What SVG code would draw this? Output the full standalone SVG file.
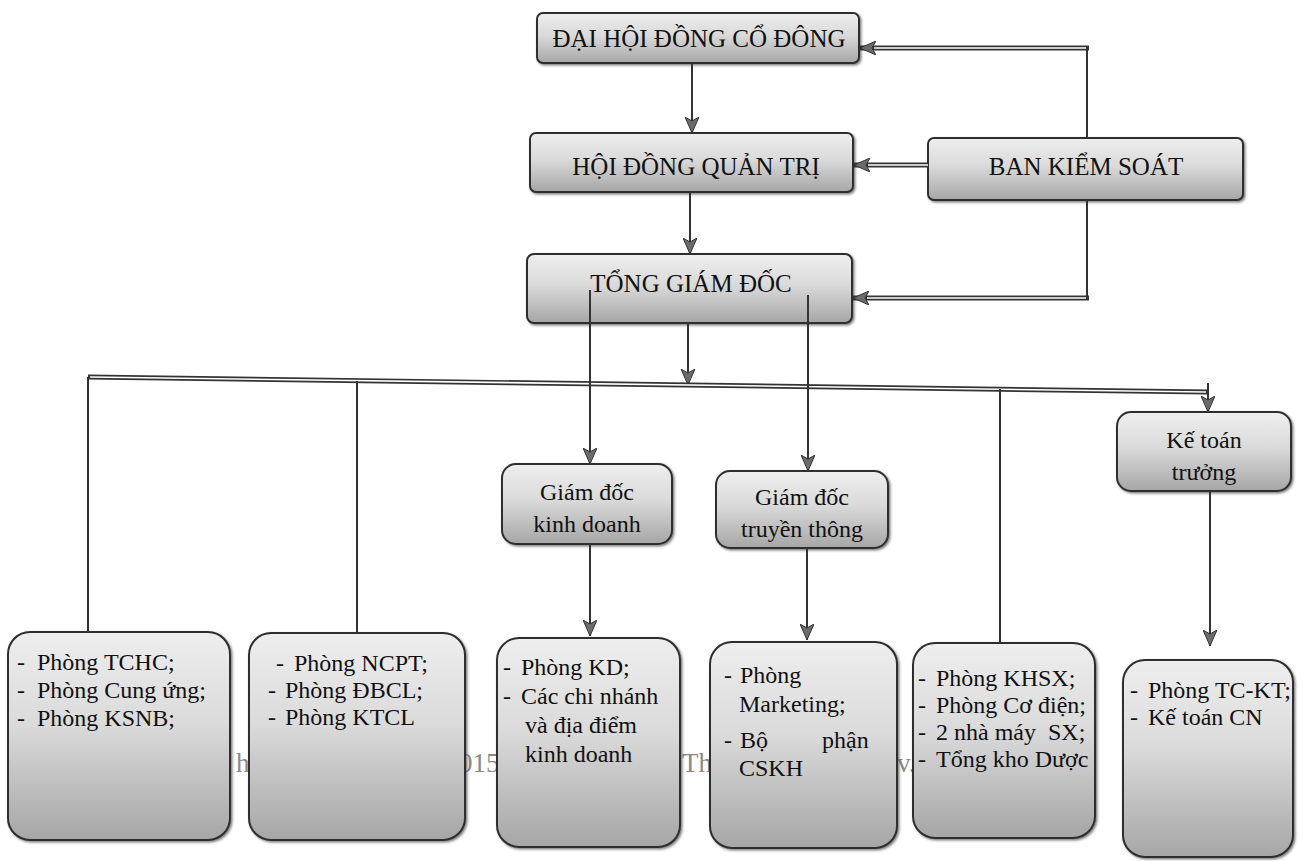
<svg xmlns="http://www.w3.org/2000/svg" width="1303" height="861" viewBox="0 0 1303 861" font-family="Liberation Serif, Times New Roman, serif">
<style>
text{font-family:'Liberation Serif','Times New Roman',serif}
.t{font-size:24px;fill:#111}
.h{font-size:25px}
.c{text-anchor:middle}
.wm{font-size:27px;fill:#8a8a8a}
.box{fill:url(#g);stroke:#2e2e2e;stroke-width:2;filter:url(#sh)}
.ln{fill:none;stroke:#333;stroke-width:2}
.dl{fill:none;stroke:#333;stroke-width:5}
.dw{fill:none;stroke:#fff;stroke-width:1.6}
</style>
<defs>
<linearGradient id="g" x1="0" y1="0" x2="0" y2="1">
<stop offset="0" stop-color="#eeeeee"/>
<stop offset="0.45" stop-color="#dadada"/>
<stop offset="1" stop-color="#a6a6a6"/>
</linearGradient>
<filter id="sh" x="-5%" y="-5%" width="115%" height="120%">
<feDropShadow dx="1.5" dy="1.5" stdDeviation="1" flood-color="#444" flood-opacity="0.7"/>
</filter>
<marker id="ar" viewBox="0 0 16 14" refX="16" refY="7" markerWidth="16" markerHeight="14" markerUnits="userSpaceOnUse" orient="auto">
<path d="M0,0 L16,7 L0,14 L4,7 z" fill="#6b6b6b" stroke="#333" stroke-width="1"/>
</marker>
</defs>
<rect width="1303" height="861" fill="#fff"/>
<g id="watermark">
<text class="wm" x="236" y="772">h</text>
<text class="wm" x="459" y="772">015</text>
<text class="wm" x="682" y="772">Th</text>
<text class="wm" x="897" y="772">v.</text>
</g>
<g id="n-dhdcd"><rect class="box" x="537" y="13" width="322" height="50" rx="6"/><text class="t h c" x="699" y="47">ĐẠI HỘI ĐỒNG CỔ ĐÔNG</text></g>
<g id="n-hdqt"><rect class="box" x="530" y="133" width="323" height="59" rx="6"/><text class="t h c" x="696" y="175">HỘI ĐỒNG QUẢN TRỊ</text></g>
<g id="n-bks"><rect class="box" x="928" y="138" width="315" height="62" rx="6"/><text class="t h c" x="1086" y="175">BAN KIỂM SOÁT</text></g>
<g id="n-tgd"><rect class="box" x="527" y="254" width="325" height="69" rx="7"/><text class="t h c" x="691" y="292">TỔNG GIÁM ĐỐC</text></g>
<g id="n-gdkd"><rect class="box" x="502" y="464" width="170" height="80" rx="14"/><text class="t c" x="587" y="500">Giám đốc</text><text class="t c" x="587" y="532">kinh doanh</text></g>
<g id="n-gdtt"><rect class="box" x="716" y="471" width="172" height="77" rx="14"/><text class="t c" x="802" y="505">Giám đốc</text><text class="t c" x="802" y="537">truyền thông</text></g>
<g id="n-ktt"><rect class="box" x="1117" y="412" width="174" height="79" rx="14"/><text class="t c" x="1204" y="448">Kế toán</text><text class="t c" x="1204" y="480">trưởng</text></g>
<g id="n-b1"><rect class="box" x="8" y="632" width="222" height="208" rx="22"/>
<text class="t" x="17" y="670">-</text><text class="t" x="37" y="670">Phòng TCHC;</text>
<text class="t" x="17" y="698">-</text><text class="t" x="37" y="698">Phòng Cung ứng;</text>
<text class="t" x="17" y="726">-</text><text class="t" x="37" y="726">Phòng KSNB;</text></g>
<g id="n-b2"><rect class="box" x="249" y="633" width="216" height="207" rx="22"/>
<text class="t" x="276" y="671">-</text><text class="t" x="294" y="671">Phòng NCPT;</text>
<text class="t" x="268" y="698">-</text><text class="t" x="285" y="698">Phòng ĐBCL;</text>
<text class="t" x="268" y="725">-</text><text class="t" x="285" y="725">Phòng KTCL</text></g>
<g id="n-b3"><rect class="box" x="497" y="638" width="183" height="209" rx="22"/>
<text class="t" x="503" y="675">-</text><text class="t" x="521" y="675">Phòng KD;</text>
<text class="t" x="503" y="704">-</text><text class="t" x="521" y="704">Các chi nhánh</text>
<text class="t" x="525" y="733">và địa điểm</text>
<text class="t" x="525" y="762">kinh doanh</text></g>
<g id="n-b4"><rect class="box" x="710" y="642" width="187" height="206" rx="22"/>
<text class="t" x="724" y="683">-</text><text class="t" x="740" y="683">Phòng</text>
<text class="t" x="739" y="712">Marketing;</text>
<text class="t" x="724" y="748">-</text><text class="t" x="740" y="748">Bộ</text><text class="t" x="822" y="748">phận</text>
<text class="t" x="739" y="776">CSKH</text></g>
<g id="n-b5"><rect class="box" x="913" y="643" width="182" height="195" rx="22"/>
<text class="t" x="918" y="686">-</text><text class="t" x="936" y="686">Phòng KHSX;</text>
<text class="t" x="918" y="713">-</text><text class="t" x="936" y="713">Phòng Cơ điện;</text>
<text class="t" x="918" y="740">-</text><text class="t" x="936" y="740" xml:space="preserve">2 nhà máy  SX;</text>
<text class="t" x="918" y="767">-</text><text class="t" x="936" y="767">Tổng kho Dược</text></g>
<g id="n-b6"><rect class="box" x="1123" y="660" width="170" height="197" rx="22"/>
<text class="t" x="1130" y="698">-</text><text class="t" x="1148" y="698">Phòng TC-KT;</text>
<text class="t" x="1130" y="725">-</text><text class="t" x="1148" y="725">Kế toán CN</text></g>
<g id="connectors">
<path class="ln" d="M692,63 V133" marker-end="url(#ar)"/>
<path class="ln" d="M690,192 V254" marker-end="url(#ar)"/>
<path class="ln" d="M688,323 V385" marker-end="url(#ar)"/>
<path class="ln" d="M1087,138 V48"/>
<path class="dl" d="M1089,48 H860" marker-end="url(#ar)"/>
<path class="dw" d="M1086,48 H874"/>
<path class="dl" d="M928,165 H854" marker-end="url(#ar)"/>
<path class="dw" d="M928,165 H868"/>
<path class="ln" d="M1087,200 V298"/>
<path class="dl" d="M1089,298 H853" marker-end="url(#ar)"/>
<path class="dw" d="M1086,298 H867"/>
<path class="dl" d="M88,377 L1208,392"/>
<path class="dw" d="M90,377 L1206,392"/>
<path class="ln" d="M88,377 V632"/>
<path class="ln" d="M357,381 V633"/>
<path class="ln" d="M1000,389 V643"/>
<path class="ln" d="M1208,383 V412" marker-end="url(#ar)"/>
<path class="ln" d="M590,290 V464" marker-end="url(#ar)"/>
<path class="ln" d="M808,295 V471" marker-end="url(#ar)"/>
<path class="ln" d="M590,544 V636" marker-end="url(#ar)"/>
<path class="ln" d="M807,548 V640" marker-end="url(#ar)"/>
<path class="ln" d="M1210,491 V646" marker-end="url(#ar)"/>
</g>
</svg>
